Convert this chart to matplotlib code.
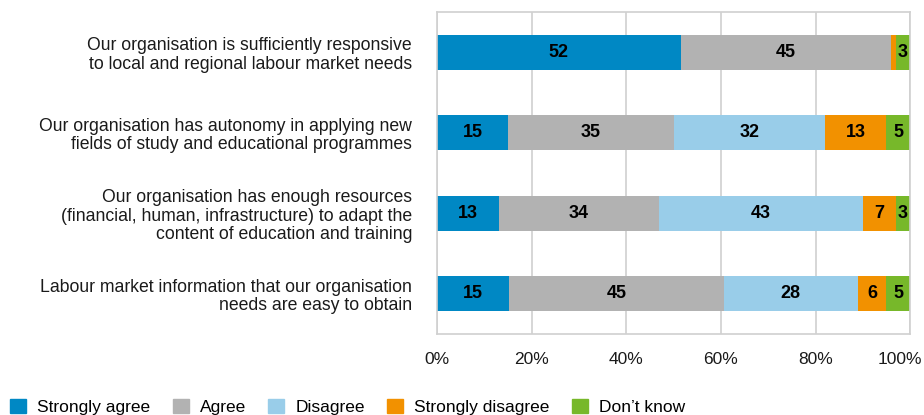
import numpy as np
import matplotlib
matplotlib.use("Agg")
from matplotlib import pyplot as plt
from matplotlib.patches import Patch
from matplotlib.transforms import ScaledTranslation

plt.rcParams['font.family'] = ['Liberation Sans', 'DejaVu Sans']

# survey statements, top to bottom
statements = [
    "Our organisation is sufficiently responsive\nto local and regional labour market needs",
    "Our organisation has autonomy in applying new\nfields of study and educational programmes",
    "Our organisation has enough resources\n(financial, human, infrastructure) to adapt the\ncontent of education and training",
    "Labour market information that our organisation\nneeds are easy to obtain",
]
answers = ["Strongly agree", "Agree", "Disagree", "Strongly disagree", "Don\u2019t know"]
strongly_agree = [52, 15, 13, 15]
agree = [45, 35, 34, 45]
disagree = [0, 32, 43, 28]
strongly_disagree = [1, 13, 7, 6]
dont_know = [3, 5, 3, 5]
colours = ['#0088c4', '#b2b2b2', '#99cde9', '#f29100', '#77b82a']
tick_pos = [0, 20, 40, 60, 80, 100]

vals = np.array([strongly_agree, agree, disagree, strongly_disagree, dont_know], dtype=float)
shares = vals / vals.sum(axis=0) * 100  # 100% stacked

fig = plt.figure(figsize=(9.24, 4.15), dpi=100)
ax = fig.add_axes([0.473, 0.195, 0.512, 0.776])

y = np.arange(len(statements))
left = np.zeros(len(statements))
for k in range(len(answers)):
    ax.barh(y, shares[k], left=left, height=0.435, color=colours[k], zorder=2)
    for i in range(len(statements)):
        if vals[k, i] >= 2:
            ax.text(left[i] + shares[k, i] / 2, y[i], "%d" % vals[k, i],
                    ha='center', va='center', fontsize=13, fontweight='bold',
                    color='black', zorder=3)
    left += shares[k]

ax.set_xlim(0, 100)
ax.set_ylim(len(statements) - 0.5, -0.5)
ax.set_yticks(y)
ax.set_yticklabels(statements, fontsize=12.7, color='#1a1a1a', linespacing=1.12)
ax.set_xticks(tick_pos)
ax.set_xticklabels(["%d%%" % t for t in tick_pos], fontsize=12.5, color='#1a1a1a')
ax.tick_params(axis='both', length=0)
ax.tick_params(axis='y', pad=18)
ax.tick_params(axis='x', pad=13)
# keep the 100% label inside the canvas
last = ax.get_xticklabels()[-1]
last.set_transform(last.get_transform() + ScaledTranslation(-0.1, 0, fig.dpi_scale_trans))
ax.grid(axis='x', color='#d0d0d0', lw=1.2, zorder=0)
for s in ax.spines.values():
    s.set_color('#d0d0d0')
    s.set_linewidth(1.2)

handles = [Patch(color=c) for c in colours]
fig.legend(handles, answers, loc='center left', bbox_to_anchor=(0.011, 0.02), ncol=5,
           frameon=False, fontsize=12.5, handlelength=0.92, handleheight=0.92,
           columnspacing=1.3, handletextpad=0.63, borderpad=0, borderaxespad=0)

fig.savefig("out.png", dpi=100)
